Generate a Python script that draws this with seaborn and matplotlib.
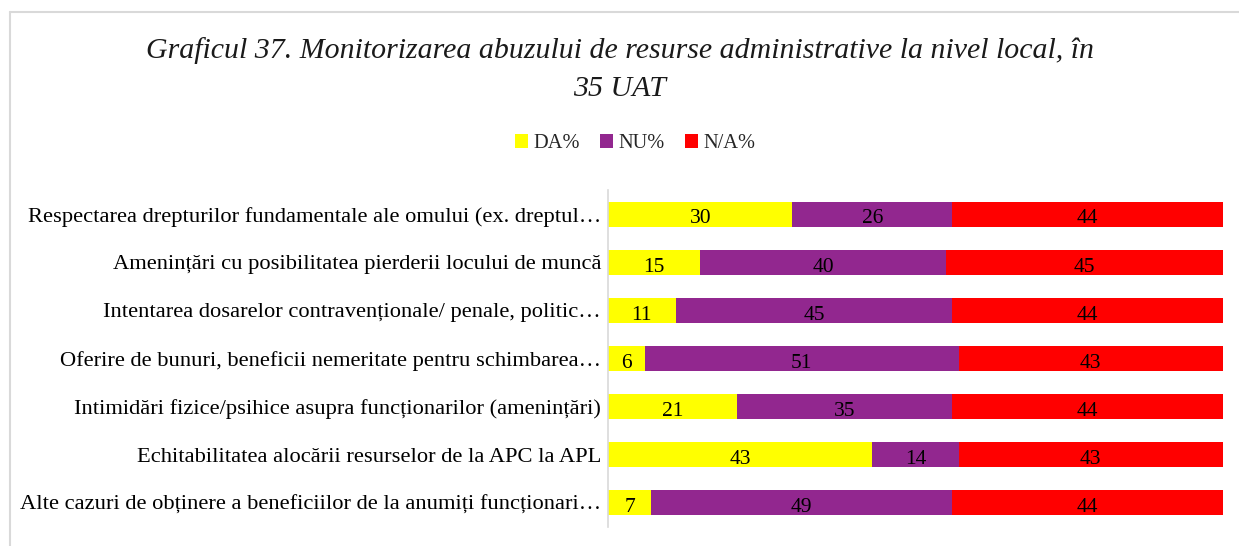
import matplotlib
matplotlib.use("Agg")
import matplotlib.pyplot as plt
from matplotlib.lines import Line2D
from matplotlib.patches import Patch
import numpy as np
import pandas as pd
import seaborn as sns

categories = [
    "Respectarea drepturilor fundamentale ale omului (ex. dreptul…",
    "Amenințări cu posibilitatea pierderii locului de muncă",
    "Intentarea dosarelor contravenționale/ penale, politic…",
    "Oferire de bunuri, beneficii nemeritate pentru schimbarea…",
    "Intimidări fizice/psihice asupra funcționarilor (amenințări)",
    "Echitabilitatea alocării resurselor de la APC la APL",
    "Alte cazuri de obținere a beneficiilor de la anumiți funcționari…",
]
da = [30, 15, 11, 6, 21, 43, 7]
nu = [26, 40, 45, 51, 35, 14, 49]
na = [44, 45, 44, 43, 44, 43, 44]
series_names = ["DA%", "NU%", "N/A%"]
colors = ["#FFFF00", "#92278F", "#FF0000"]

title = "Graficul 37. Monitorizarea abuzului de resurse administrative la nivel local, în\n35 UAT"

sns.set_theme(style="white")
plt.rcParams["font.family"] = ["Liberation Serif", "DejaVu Serif"]

df = pd.DataFrame({"cat": categories, "DA%": da, "NU%": nu, "N/A%": na})
parts = df[series_names].to_numpy()
ends = parts.cumsum(axis=1)

fig = plt.figure(figsize=(12.39, 5.46), dpi=100)
ax = fig.add_axes([0.4907, 0.0348, 0.4964, 0.6172])

# stacked segments: draw cumulative totals from the outermost inwards
for j in range(len(series_names) - 1, -1, -1):
    sns.barplot(x=ends[:, j], y=df["cat"], orient="h", color=colors[j],
                saturation=1, width=0.52, ax=ax, edgecolor="none")

for i in range(len(categories)):
    for j in range(len(series_names)):
        start = ends[i, j] - parts[i, j]
        ax.text(start + parts[i, j] / 2, i + 0.05, f"{parts[i, j]}", ha="center",
                va="center_baseline", fontsize=15.5, color="black")

ax.set_xlim(0, 100)
ax.set_ylim(len(categories) - 0.5, -0.5)
ax.set_xlabel("")
ax.set_ylabel("")
ax.set_xticks([])
ax.tick_params(axis="y", length=0, pad=5, labelsize=16.2, colors="black")
for s in ["top", "right", "bottom"]:
    ax.spines[s].set_visible(False)
ax.spines["left"].set_color("#d9d9d9")
ax.spines["left"].set_linewidth(1.2)

fig.text(0.5, 0.873, title, ha="center", va="center", fontsize=21.5,
         style="italic", color="#1a1a1a", linespacing=1.6)

handles = [Patch(facecolor=c, edgecolor="none") for c in colors]
fig.legend(handles, series_names, loc="center", bbox_to_anchor=(0.5125, 0.737),
           ncol=3, frameon=False, fontsize=14.7, handlelength=0.65,
           handleheight=0.65, handletextpad=0.25, columnspacing=1.0)

# chart-area frame lines
fig.add_artist(Line2D([10 / 1239, 1], [1 - 12 / 546, 1 - 12 / 546],
                      transform=fig.transFigure, color="#d9d9d9", lw=1.5))
fig.add_artist(Line2D([10 / 1239, 10 / 1239], [0, 1 - 12 / 546],
                      transform=fig.transFigure, color="#d9d9d9", lw=1.5))

fig.savefig("out.png", dpi=100, facecolor="white")
